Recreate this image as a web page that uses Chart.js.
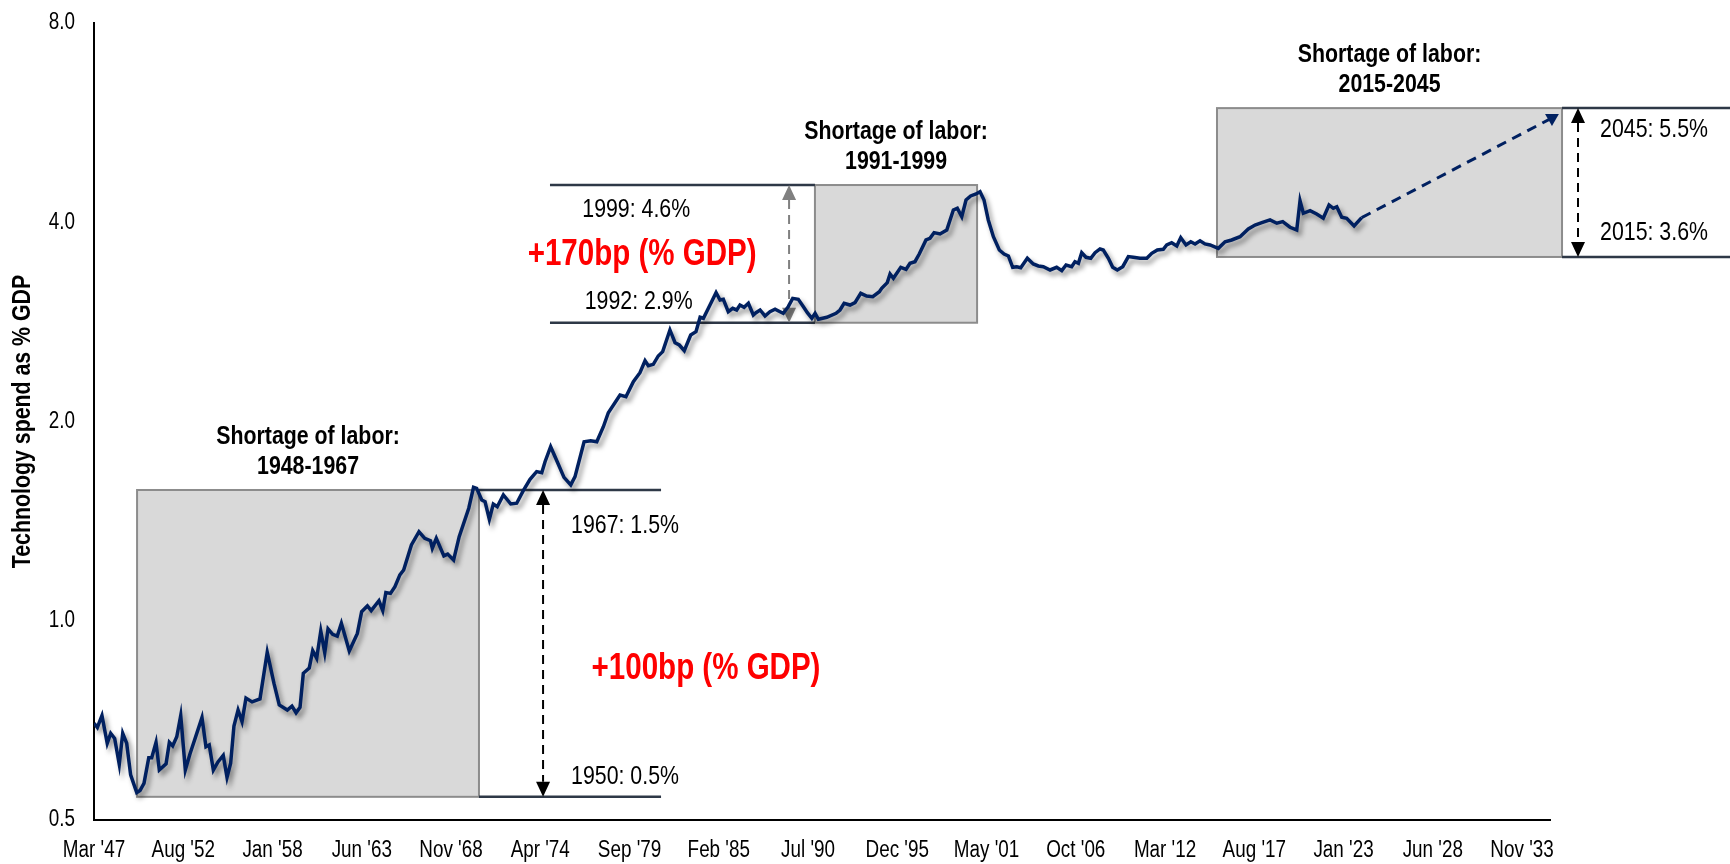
<!DOCTYPE html>
<html>
<head>
<meta charset="utf-8">
<script src="https://cdn.jsdelivr.net/npm/chart.js@4.4.1/dist/chart.umd.min.js"></script>
<style>
html,body{margin:0;padding:0;background:#fff;}
#wrap{width:1730px;height:864px;position:relative;}
canvas{display:block;}
</style>
</head>
<body>
<div id="wrap"><canvas id="c" width="1730" height="864"></canvas></div>
<script>
// ---------------- DATA ----------------
const xTickLabels = ["Mar '47","Aug '52","Jan '58","Jun '63","Nov '68","Apr '74","Sep '79","Feb '85","Jul '90","Dec '95","May '01","Oct '06","Mar '12","Aug '17","Jan '23","Jun '28","Nov '33"];
const yTickValues = [0.5, 1, 2, 4, 8];

const years = [
1947.17,1947.37,1947.65,1947.97,1948.18,1948.42,1948.70,1948.91,1949.15,1949.39,
1949.76,1949.96,1950.20,1950.49,1950.67,1950.93,1951.13,1951.54,1951.74,1951.94,
1952.19,1952.43,1952.71,1952.99,1953.72,1953.96,1954.16,1954.41,1954.69,1955.01,
1955.24,1955.46,1955.66,1955.91,1956.15,1956.39,1956.76,1957.24,1957.68,1958.09,
1958.41,1958.90,1959.18,1959.43,1959.67,1959.87,1960.23,1960.44,1960.68,1960.93,
1961.17,1961.37,1961.65,1961.93,1962.18,1962.66,1963.15,1963.41,1963.76,1963.99,
1964.46,1964.69,1964.88,1965.16,1965.43,1965.73,1965.96,1966.43,1966.89,1967.24,
1967.59,1967.70,1967.94,1968.40,1968.63,1968.99,1969.33,1969.91,1970.20,1970.39,
1970.70,1970.90,1971.16,1971.40,1971.64,1972.01,1972.46,1972.82,1973.22,1973.63,
1974.03,1974.34,1974.54,1974.88,1975.28,1975.69,1976.10,1976.36,1976.91,1977.31,
1977.68,1978.08,1978.38,1979.09,1979.45,1979.90,1980.30,1980.61,1980.81,1981.11,
1981.41,1981.68,1982.12,1982.43,1982.69,1982.99,1983.38,1983.70,1983.95,1984.15,
1984.55,1984.92,1985.16,1985.36,1985.66,1985.93,1986.17,1986.37,1986.62,1986.88,
1987.18,1987.34,1987.59,1987.89,1988.19,1988.50,1988.80,1989.00,1989.30,1989.57,
1989.91,1990.22,1990.46,1990.73,1990.93,1991.13,1991.64,1992.20,1992.44,1992.69,
1993.05,1993.35,1993.70,1994.06,1994.43,1994.83,1994.97,1995.31,1995.48,1995.68,
1996.13,1996.45,1996.69,1996.99,1997.25,1997.66,1997.90,1998.15,1998.51,1998.92,
1999.32,1999.56,1999.83,2000.09,2000.37,2000.70,2000.94,2001.18,2001.44,2001.75,
2002.11,2002.40,2002.66,2002.92,2003.17,2003.41,2003.81,2004.17,2004.48,2004.78,
2005.19,2005.59,2005.90,2006.16,2006.50,2006.70,2006.91,2007.11,2007.37,2007.66,
2007.92,2008.22,2008.42,2008.73,2008.99,2009.27,2009.60,2009.94,2010.24,2010.65,
2011.06,2011.36,2011.70,2012.06,2012.27,2012.57,2012.88,2013.12,2013.44,2013.73,
2013.99,2014.29,2014.59,2014.90,2015.40,2015.81,2016.21,2016.72,2017.22,2017.63,
2018.04,2018.54,2018.95,2019.31,2019.75,2020.16,2020.36,2020.56,2020.97,2021.37,
2021.77,2022.12,2022.38,2022.59,2022.89,2023.19,2023.64,2024.10
];

const techSpend = [
0.700,0.690,0.719,0.653,0.676,0.664,0.607,0.676,0.653,0.585,
0.550,0.554,0.568,0.621,0.621,0.655,0.595,0.608,0.655,0.647,
0.668,0.719,0.595,0.629,0.714,0.645,0.649,0.595,0.612,0.626,
0.580,0.609,0.693,0.733,0.704,0.764,0.754,0.762,0.896,0.804,
0.746,0.733,0.743,0.726,0.740,0.833,0.848,0.901,0.878,0.965,
0.895,0.972,0.954,0.948,0.991,0.900,0.957,1.032,1.053,1.036,
1.072,1.036,1.103,1.100,1.126,1.173,1.193,1.302,1.363,1.332,
1.321,1.287,1.332,1.253,1.261,1.235,1.340,1.479,1.591,1.585,
1.522,1.513,1.423,1.501,1.487,1.549,1.501,1.505,1.572,1.636,
1.680,1.674,1.739,1.832,1.739,1.647,1.604,1.651,1.864,1.871,
1.864,1.964,2.062,2.193,2.180,2.297,2.370,2.471,2.429,2.440,
2.512,2.550,2.750,2.631,2.610,2.559,2.702,2.733,2.874,2.864,
2.999,3.131,3.052,3.060,2.930,2.965,2.948,2.999,2.976,3.017,
2.897,2.920,2.948,2.887,2.930,2.955,2.930,2.914,2.982,3.070,
3.060,2.982,2.920,2.864,2.914,2.854,2.874,2.914,2.948,3.017,
2.999,3.024,3.124,3.095,3.088,3.142,3.179,3.242,3.341,3.292,
3.420,3.396,3.468,3.487,3.582,3.761,3.783,3.858,3.840,3.894,
4.175,4.199,4.078,4.322,4.383,4.413,4.448,4.322,4.032,3.804,
3.632,3.582,3.557,3.420,3.427,3.415,3.529,3.460,3.436,3.427,
3.388,3.420,3.380,3.447,3.427,3.487,3.468,3.598,3.541,3.529,
3.598,3.645,3.632,3.529,3.420,3.388,3.427,3.549,3.541,3.529,
3.529,3.590,3.632,3.641,3.696,3.725,3.683,3.791,3.696,3.738,
3.709,3.751,3.709,3.696,3.653,3.738,3.761,3.804,3.907,3.962,
3.994,4.032,3.986,4.008,3.931,3.894,4.311,4.127,4.165,4.117,
4.056,4.247,4.199,4.222,4.070,4.056,3.948,4.064
];

// projection (dashed) from last actual to 2045 target
const projYears = [2024.10, 2035.65];
const projSpend = [4.064, 5.75];

// axis extent
const xMaxYear = 2035.53;

// annotation content (data units)
const shortageBoxes = [
  {from: 1949.78, to: 1970.53, low: 0.542, high: 1.576, title: ['Shortage of labor:', '1948-1967']},
  {from: 1990.92, to: 2000.76, low: 2.82,  high: 4.553, title: ['Shortage of labor:', '1991-1999']},
  {from: 2015.32, to: 2036.26, low: 3.545, high: 5.95,  title: ['Shortage of labor:', '2015-2045']}
];
const levelLines = [
  {from: 1970.53, to: 1981.58, value: 1.576},
  {from: 1970.53, to: 1981.58, value: 0.542},
  {from: 1974.84, to: 1990.92, value: 4.553},
  {from: 1974.84, to: 1990.92, value: 2.82},
  {from: 2036.26, to: 2046.60, value: 5.95},
  {from: 2036.26, to: 2046.60, value: 3.545}
];
const rangeArrows = [
  {at: 1974.42, low: 0.542, high: 1.576, color: '#000000'},
  {at: 1989.35, low: 2.82,  high: 4.553, color: '#808080'},
  {at: 2037.23, low: 3.545, high: 5.95,  color: '#000000'}
];
const levelLabels = [
  {text: '1967: 1.5%', x: 1976.12, y: 1.390},
  {text: '1950: 0.5%', x: 1976.12, y: 0.581},
  {text: '1999: 4.6%', x: 1976.80, y: 4.175},
  {text: '1992: 2.9%', x: 1976.95, y: 3.031},
  {text: '2045: 5.5%', x: 2038.57, y: 5.514},
  {text: '2015: 3.6%', x: 2038.57, y: 3.854}
];
const changeLabels = [
  {text: '+100bp (% GDP)', x: 1984.31, y: 0.846},
  {text: '+170bp (% GDP)', x: 1980.43, y: 3.569}
];

// ---------------- SETUP ----------------
const MONTHS = ['Jan','Feb','Mar','Apr','May','Jun','Jul','Aug','Sep','Oct','Nov','Dec'];
const xTickValues = xTickLabels.map(l => {
  const parts = l.split(" '");
  const yy = parseInt(parts[1], 10);
  const yr = yy >= 40 ? 1900 + yy : 2000 + yy;
  return yr + MONTHS.indexOf(parts[0]) / 12;
});

const FONT = "'Liberation Sans', Arial, sans-serif";
const NARROW = 0.82;   // horizontal squeeze to mimic Arial Narrow
const NAVY = '#002060';
Chart.defaults.font.family = FONT;
Chart.defaults.color = '#000';

// draw text horizontally condensed
function narrowText(ctx, text, x, y, font, color, align, baseline, rotation) {
  ctx.save();
  ctx.translate(x, y);
  if (rotation) ctx.rotate(rotation);
  ctx.scale(NARROW, 1);
  ctx.font = font;
  ctx.fillStyle = color;
  ctx.textAlign = align;
  ctx.textBaseline = baseline;
  ctx.fillText(text, 0, 0);
  ctx.restore();
}

function narrowDrawLabels(scale, chartArea) {
  if (!scale.options.ticks.display) return;
  const ctx = scale.ctx;
  const items = scale.getLabelItems(chartArea);
  for (const item of items) {
    const o = item.options;
    const label = Array.isArray(item.label) ? item.label[0] : item.label;
    ctx.save();
    ctx.translate(o.translation[0], o.translation[1]);
    if (o.rotation) ctx.rotate(o.rotation);
    ctx.scale(NARROW, 1);
    ctx.font = item.font.string;
    ctx.fillStyle = o.color;
    ctx.textAlign = o.textAlign;
    ctx.textBaseline = o.textBaseline;
    ctx.fillText(label, 0, item.textOffset);
    ctx.restore();
  }
}

class NarrowLinearScale extends Chart.LinearScale {
  drawLabels(chartArea) { narrowDrawLabels(this, chartArea); }
}
NarrowLinearScale.id = 'narrowLinear';
NarrowLinearScale.defaults = Chart.LinearScale.defaults;

class NarrowLogScale extends Chart.LogarithmicScale {
  drawLabels(chartArea) { narrowDrawLabels(this, chartArea); }
  drawTitle() {
    const t = this.options.title;
    if (!t.display) return;
    const font = Chart.helpers.toFont(t.font);
    const pad = Chart.helpers.toPadding(t.padding);
    const x = this.left + pad.top + font.lineHeight / 2;
    const y = (this.top + this.bottom) / 2;
    narrowText(this.ctx, t.text, x, y, font.string, t.color, 'center', 'middle', -Math.PI / 2);
  }
}
NarrowLogScale.id = 'narrowLog';
NarrowLogScale.defaults = Chart.LogarithmicScale.defaults;

Chart.register(NarrowLinearScale, NarrowLogScale);

const mainPoints = years.map((y, i) => ({x: y, y: techSpend[i]}));
const projPoints = projYears.map((y, i) => ({x: y, y: projSpend[i]}));

const annoPlugin = {
  id: 'annos',
  beforeDatasetsDraw(chart) {
    const ctx = chart.ctx;
    const xs = chart.scales.x, ys = chart.scales.y;
    ctx.save();
    // boxes + titles
    shortageBoxes.forEach(b => {
      const x1 = xs.getPixelForValue(b.from), x2 = xs.getPixelForValue(b.to);
      const y1 = ys.getPixelForValue(b.high), y2 = ys.getPixelForValue(b.low);
      ctx.fillStyle = '#d9d9d9';
      ctx.fillRect(x1, y1, x2 - x1, y2 - y1);
      ctx.strokeStyle = '#8c8c8c';
      ctx.lineWidth = 2;
      ctx.strokeRect(x1, y1, x2 - x1, y2 - y1);
      const cx = (x1 + x2) / 2;
      narrowText(ctx, b.title[0], cx, y1 - 53, 'bold 26px ' + FONT, '#000', 'center', 'middle');
      narrowText(ctx, b.title[1], cx, y1 - 23, 'bold 26px ' + FONT, '#000', 'center', 'middle');
    });
    // level lines
    ctx.strokeStyle = '#2e3847';
    ctx.lineWidth = 2.5;
    levelLines.forEach(l => {
      const yp = ys.getPixelForValue(l.value);
      ctx.beginPath();
      ctx.moveTo(xs.getPixelForValue(l.from), yp);
      ctx.lineTo(xs.getPixelForValue(l.to), yp);
      ctx.stroke();
    });
    // arrows
    rangeArrows.forEach(a => {
      const xp = xs.getPixelForValue(a.at);
      const yt = ys.getPixelForValue(a.high), yb = ys.getPixelForValue(a.low);
      const hw = 7, hh = 15;
      ctx.strokeStyle = a.color; ctx.fillStyle = a.color;
      ctx.lineWidth = 2;
      ctx.setLineDash([9, 6]);
      ctx.beginPath(); ctx.moveTo(xp, yt + hh); ctx.lineTo(xp, yb - hh); ctx.stroke();
      ctx.setLineDash([]);
      ctx.beginPath(); ctx.moveTo(xp, yt); ctx.lineTo(xp - hw, yt + hh); ctx.lineTo(xp + hw, yt + hh); ctx.closePath(); ctx.fill();
      ctx.beginPath(); ctx.moveTo(xp, yb); ctx.lineTo(xp - hw, yb - hh); ctx.lineTo(xp + hw, yb - hh); ctx.closePath(); ctx.fill();
    });
    // level labels
    levelLabels.forEach(t => narrowText(ctx, t.text, xs.getPixelForValue(t.x), ys.getPixelForValue(t.y),
      '26px ' + FONT, '#000', 'left', 'middle'));
    // change labels
    changeLabels.forEach(t => narrowText(ctx, t.text, xs.getPixelForValue(t.x), ys.getPixelForValue(t.y),
      'bold 36px ' + FONT, '#ff0000', 'center', 'middle'));
    ctx.restore();
  },
  beforeDatasetDraw(chart, args) {
    if (args.index === 0) {
      const c = chart.ctx;
      c.save();
      c.shadowColor = 'rgba(0,0,0,0.42)';
      c.shadowBlur = 5;
      c.shadowOffsetX = 3;
      c.shadowOffsetY = 4;
    }
  },
  afterDatasetDraw(chart, args) {
    if (args.index === 0) chart.ctx.restore();
  }
};

new Chart(document.getElementById('c'), {
  type: 'line',
  data: {
    datasets: [
      {
        label: 'Technology spend as % GDP',
        data: mainPoints,
        borderColor: NAVY,
        borderWidth: 3.5,
        pointRadius: 0,
        tension: 0,
        fill: false
      },
      {
        label: 'Projection',
        data: projPoints,
        borderColor: NAVY,
        borderWidth: 3,
        borderDash: [10, 7],
        pointRadius: [0, 8],
        pointStyle: 'triangle',
        rotation: 180,
        pointBackgroundColor: NAVY,
        pointBorderColor: NAVY,
        pointBorderWidth: 0,
        clip: false,
        fill: false
      }
    ]
  },
  options: {
    responsive: false,
    animation: false,
    events: [],
    layout: {padding: {top: 23, left: 0, right: 180, bottom: 0}},
    plugins: {legend: {display: false}, tooltip: {enabled: false}},
    scales: {
      x: {
        type: 'narrowLinear',
        min: xTickValues[0],
        max: xMaxYear,
        grid: {display: false, drawTicks: false},
        border: {display: true, color: '#000', width: 2},
        ticks: {
          font: {size: 23},
          color: '#000',
          padding: 17,
          maxRotation: 0,
          autoSkip: false,
          callback: (v, i) => xTickLabels[i]
        },
        afterBuildTicks: s => { s.ticks = xTickValues.map(v => ({value: v})); },
        afterFit: s => { s.height = 44; s.paddingLeft = 0; s.paddingRight = 0; }
      },
      y: {
        type: 'narrowLog',
        min: 0.5,
        max: 8,
        grid: {display: false, drawTicks: false},
        border: {display: true, color: '#000', width: 2},
        ticks: {
          font: {size: 23},
          color: '#000',
          padding: 19,
          autoSkip: false,
          callback: v => Number(v).toFixed(1)
        },
        title: {
          display: true,
          text: 'Technology spend as % GDP',
          font: {size: 26, weight: 'bold'},
          color: '#000',
          padding: {top: 7, bottom: 0}
        },
        afterBuildTicks: s => { s.ticks = yTickValues.map(v => ({value: v})); },
        afterFit: s => { s.width = 94; s.paddingTop = 0; s.paddingBottom = 0; }
      }
    }
  },
  plugins: [annoPlugin]
});
</script>
</body>
</html>
